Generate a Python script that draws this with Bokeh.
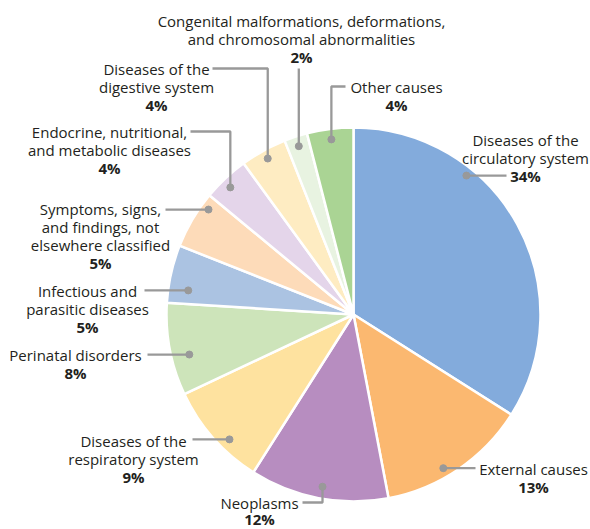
import math
from bokeh.plotting import figure
from bokeh.models import Range1d, ColumnDataSource
from bokeh.core.properties import value
from bokeh.embed import file_html
from bokeh.resources import INLINE

# ---------------- data ----------------
categories = [
    "Diseases of the\ncirculatory system",
    "External causes",
    "Neoplasms",
    "Diseases of the\nrespiratory system",
    "Perinatal disorders",
    "Infectious and\nparasitic diseases",
    "Symptoms, signs,\nand findings, not\nelsewhere classified",
    "Endocrine, nutritional,\nand metabolic diseases",
    "Diseases of the\ndigestive system",
    "Congenital malformations, deformations,\nand chromosomal abnormalities",
    "Other causes",
]
shares = [34, 13, 12, 9, 8, 5, 5, 4, 4, 2, 4]

# ---------------- styles ----------------
colors = ["#83ABDC", "#FBB870", "#B78DC0", "#FEE29F", "#CDE4BA", "#ABC3E2",
          "#FDDBB9", "#E4D5EA", "#FEECC2", "#E8F3E1", "#AAD494"]

# ---------------- layout (picture-pixel coordinates) ----------------
W, H = 590, 529
CX, CY_IMG, R = 353, 314, 187
LINE_H = 18.3
FONT = value("Open Sans")
FSIZE = "15px"
TEXT_COLOR = "#231F20"
LEADER = "#999999"

# label block: centre x, first-line y (picture px)
label_cx = [525, 533, 259, 133, 75, 87, 100, 109, 156, 301, 396]
label_y0 = [139, 468, 502, 440, 354, 290, 208, 131, 68, 20, 86]
# per-label line spacing (last label sits on the bottom edge)
label_lh = [LINE_H] * 2 + [16.5] + [LINE_H] * 8
# leader: angle offset from slice middle (deg), dot radius, route, route targets
lead_off = [-22.1, 3.9, -0.6, -3.8, -2.9, -4.3, 5.3, -0.9, 0, 0, 0]
lead_r = [179, 178, 175, 176, 169, 167, 179, 177, 178, 177, 176.5]
lead_route = ["h", "h", "vh", "h", "h", "h", "h", "vh", "vh", "v", "vh"]
lead_tx = [506, 475, 302, 192, 147, 144, 165, 190, 212, None, 345]
lead_ty = [None, None, 502, None, None, None, None, 131, 68, 68, 86]


def Y(img_y):
    return H - img_y


CY = Y(CY_IMG)

p = figure(width=W, height=H, output_backend="svg", toolbar_location=None,
           x_range=Range1d(0, W), y_range=Range1d(0, H), min_border=0)
p.axis.visible = False
p.grid.visible = False
p.outline_line_color = None
p.background_fill_color = "white"
p.border_fill_color = "white"

total = float(sum(shares))
starts, ends, mids = [], [], []
cum = 0.0
for s in shares:
    a0 = cum / total * 360.0
    a1 = (cum + s) / total * 360.0
    # clockwise from top -> bokeh anticlockwise from +x
    starts.append(math.radians(90 - a1))
    ends.append(math.radians(90 - a0))
    mids.append((a0 + a1) / 2)
    cum += s

src = ColumnDataSource(dict(start=starts, end=ends, color=colors, cat=categories))
p.wedge(x=CX, y=CY, radius=R, start_angle="start", end_angle="end",
        direction="anticlock", fill_color="color", line_color="white",
        line_width=2.5, source=src)

# leaders
xs, ys, dx_, dy_ = [], [], [], []
for i in range(len(shares)):
    th = math.radians(mids[i] + lead_off[i])
    px = CX + lead_r[i] * math.sin(th)
    py = CY + lead_r[i] * math.cos(th)
    dx_.append(px)
    dy_.append(py)
    route = lead_route[i]
    if route == "h":
        xs.append([px, lead_tx[i]])
        ys.append([py, py])
    elif route == "v":
        xs.append([px, px])
        ys.append([py, Y(lead_ty[i])])
    else:
        xs.append([px, px, lead_tx[i]])
        ys.append([py, Y(lead_ty[i]), Y(lead_ty[i])])

p.multi_line(xs=xs, ys=ys, line_color=LEADER, line_width=2.3)
p.scatter(x=dx_, y=dy_, size=7, color=LEADER, marker="circle")

# labels
nx, ny, nt = [], [], []
bx, by, bt = [], [], []
for i, name in enumerate(categories):
    lines = name.split("\n")
    for j, ln in enumerate(lines):
        nx.append(label_cx[i])
        ny.append(Y(label_y0[i] + j * label_lh[i]))
        nt.append(ln)
    bx.append(label_cx[i])
    by.append(Y(label_y0[i] + len(lines) * label_lh[i]))
    bt.append(f"{shares[i]}%")

p.text(x=nx, y=ny, text=nt, text_align="center", text_baseline="middle",
       text_font=FONT, text_font_size=FSIZE, text_color=TEXT_COLOR)
p.text(x=bx, y=by, text=bt, text_align="center", text_baseline="middle",
       text_font=FONT, text_font_size=FSIZE, text_font_style="bold",
       text_color=TEXT_COLOR)

open("out.html", "w").write(file_html(p, INLINE))
